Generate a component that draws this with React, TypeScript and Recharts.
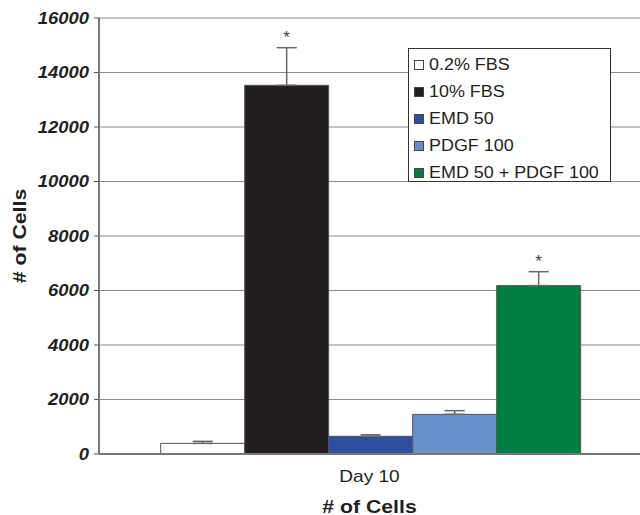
import React from 'react';
import {
  BarChart,
  Bar,
  XAxis,
  YAxis,
  CartesianGrid,
  Legend,
  ErrorBar,
  LabelList,
} from 'recharts';

const categories = ['Day 10'];
const seriesNames = ['0.2% FBS', '10% FBS', 'EMD 50', 'PDGF 100', 'EMD 50 + PDGF 100'];
const seriesValues = [390, 13530, 650, 1455, 6180];
const seriesErrors = [75, 1380, 55, 135, 510];
const significant = [false, true, false, false, true];
const seriesColors = ['#ffffff', '#231f20', '#2e4fa0', '#6891cc', '#007d40'];
const yTicks = [0, 2000, 4000, 6000, 8000, 10000, 12000, 14000, 16000];

const font = 'Arial, "Liberation Sans", Helvetica, sans-serif';
// the original lettering is a bit wider than Arial
const stretch = 1.12;

const data = categories.map((cat) => {
  const row: Record<string, any> = { name: cat };
  seriesNames.forEach((s, i) => {
    row['s' + i] = seriesValues[i];
    row['e' + i] = [0, seriesErrors[i]];
  });
  return row;
});

const WideText = ({ x, y, anchor = 'middle', size, weight, italic, rotate, children }: any) => (
  <text
    transform={`translate(${x},${y})${rotate ? ` rotate(${rotate})` : ''} scale(${stretch},1)`}
    textAnchor={anchor}
    dominantBaseline="central"
    fontFamily={font}
    fontSize={size}
    fontWeight={weight}
    fontStyle={italic ? 'italic' : 'normal'}
    fill="#231f20"
  >
    {children}
  </text>
);

const YTick = ({ x, y, payload }: any) => (
  <WideText x={x - 3} y={y} anchor="end" size={16.5} weight="bold" italic>
    {payload.value}
  </WideText>
);

const XTick = ({ x, y, payload }: any) => (
  <WideText x={x} y={y + 14} size={17}>
    {payload.value}
  </WideText>
);

const makeStar = (i: number) => (props: any) => {
  const { x, y, width, height, value } = props;
  if (!significant[i] || !value) return null;
  const pxPerUnit = height / value;
  const top = y - seriesErrors[i] * pxPerUnit;
  return (
    <text
      x={x + width / 2}
      y={top - 5}
      textAnchor="middle"
      fontFamily={font}
      fontSize={17}
      fill="#444"
    >
      *
    </text>
  );
};

const LegendBox = () => (
  <div
    style={{
      width: 203,
      height: 134,
      border: '1px solid #333',
      background: '#fff',
      boxSizing: 'border-box',
      padding: '3px 0 0 5px',
      fontFamily: font,
      fontSize: 16,
      color: '#231f20',
      textAlign: 'left',
    }}
  >
    {seriesNames.map((s, i) => (
      <div key={s} style={{ display: 'flex', alignItems: 'center', height: 26.8 }}>
        <span
          style={{
            display: 'inline-block',
            width: 8,
            height: 8,
            background: seriesColors[i],
            border: '1px solid #444',
            marginRight: 5,
          }}
        />
        <span style={{ display: 'inline-block', transform: `scaleX(${stretch})`, transformOrigin: 'left center', whiteSpace: 'nowrap' }}>
          {s}
        </span>
      </div>
    ))}
  </div>
);

export default function App() {
  return (
    <div style={{ position: 'fixed', left: 0, top: 0, background: '#fff' }}>
      <BarChart
        width={640}
        height={515}
        data={data}
        margin={{ top: 18, right: 0, left: 2, bottom: 0 }}
        barCategoryGap="11.4%"
        barGap={0}
      >
        <CartesianGrid vertical={false} stroke="#8a8a8a" strokeWidth={1} />
        <XAxis
          dataKey="name"
          height={61}
          tickLine={false}
          axisLine={{ stroke: '#777', strokeWidth: 2 }}
          tick={<XTick />}
          label={({ viewBox }: any) => (
            <WideText x={viewBox.x + viewBox.width / 2} y={viewBox.y + 52} size={19} weight="bold">
              # of Cells
            </WideText>
          )}
        />
        <YAxis
          width={97}
          domain={[0, 16000]}
          ticks={yTicks}
          interval={0}
          tickSize={5}
          tickLine={{ stroke: '#555' }}
          axisLine={{ stroke: '#777', strokeWidth: 2 }}
          tick={<YTick />}
          label={({ viewBox }: any) => (
            <WideText x={19} y={viewBox.y + viewBox.height / 2} size={19} weight="bold" rotate={-90}>
              # of Cells
            </WideText>
          )}
        />
        <Legend
          layout="horizontal"
          verticalAlign="middle"
          align="center"
          content={<LegendBox />}
          wrapperStyle={{ left: 408, top: 48, width: 203, height: 134 }}
        />
        {seriesNames.map((s, i) => (
          <Bar
            key={s}
            dataKey={'s' + i}
            name={s}
            fill={seriesColors[i]}
            stroke="#555"
            strokeWidth={1}
            isAnimationActive={false}
          >
            <ErrorBar dataKey={'e' + i} width={10} stroke="#666" strokeWidth={1.5} direction="y" />
            <LabelList dataKey={'s' + i} content={makeStar(i)} />
          </Bar>
        ))}
      </BarChart>
    </div>
  );
}
